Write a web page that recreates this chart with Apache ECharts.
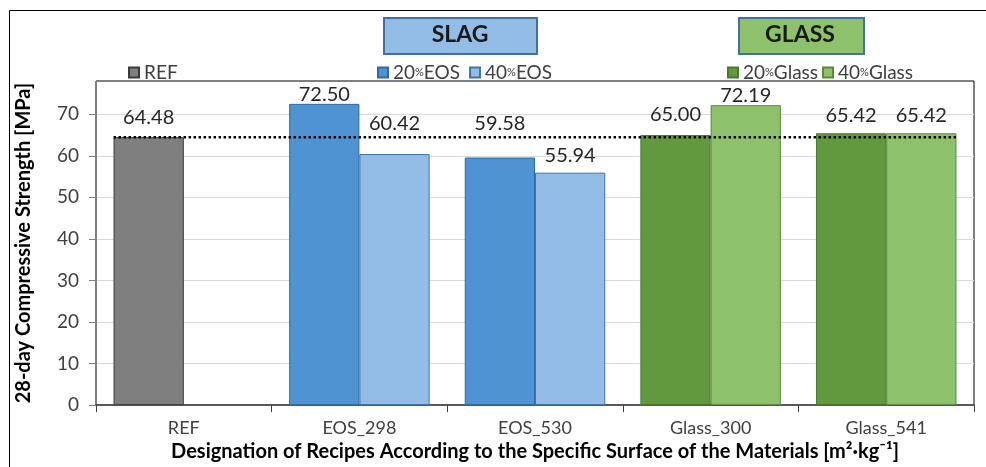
<!DOCTYPE html>
<html>
<head>
<meta charset="utf-8">
<script src="https://cdn.jsdelivr.net/npm/echarts@6/dist/echarts.min.js"></script>
<style>
html,body{margin:0;padding:0;background:#fff;}
#c{width:986px;height:467px;}
</style>
</head>
<body>
<div id="c"></div>
<script>
// ---- data ----
const categories = ['REF', 'EOS_298', 'EOS_530', 'Glass_300', 'Glass_541'];
const refValues     = [64.48, null, null, null, null];
const eos20Values   = [null, 72.50, 59.58, null, null];
const eos40Values   = [null, 60.42, 55.94, null, null];
const glass20Values = [null, null, null, 65.00, 65.42];
const glass40Values = [null, null, null, 72.19, 65.42];
const referenceLine = 64.48;
const yTickLabels = [0, 10, 20, 30, 40, 50, 60, 70];

// ---- layout / style ----
const FONT = 'Lato';
const gapFrac = 0.2;
// label distance above each bar (per series, per category), mimicking the reference placement
const labelLift = {
  REF: [10, 0, 0, 0, 0],
  '20%EOS': [0, -1, 24, 0, 0],
  '40%EOS': [0, 21, 7, 0, 0],
  '20%Glass': [0, 0, 0, 10, 8],
  '40%Glass': [0, 0, 0, 0, 8]
};

function barSeries(name, values, stack, color, border) {
  return {
    name: name,
    type: 'bar',
    stack: stack,
    barGap: '0%',
    barCategoryGap: (gapFrac * 100) + '%',
    itemStyle: { color: color, borderColor: border, borderWidth: 1 },
    data: values.map((v, i) => v == null ? null : {
      value: v,
      label: { distance: labelLift[name][i] }
    }),
    label: {
      show: true,
      position: 'top',
      fontFamily: FONT,
      fontSize: 20,
      color: '#262626',
      formatter: p => p.value == null ? '' : Number(p.value).toFixed(2)
    }
  };
}

const legendText = {
  fontFamily: FONT, fontSize: 19, color: '#404040',
  rich: { p: { fontFamily: FONT, fontSize: 11, color: '#404040' } }
};
const legendFmt = n => n.replace('%', '{p|%}');

const option = {
  animation: false,
  backgroundColor: '#fff',
  grid: { left: 96, top: 81, right: 12, bottom: 59, show: true, borderColor: '#000', borderWidth: 1 },
  legend: [
    { data: ['REF'], left: 123, top: 58, icon: 'rect', itemWidth: 10, itemHeight: 10, itemGap: 10,
      textStyle: legendText, formatter: legendFmt },
    { data: ['20%EOS', '40%EOS'], left: 372, top: 58, icon: 'rect', itemWidth: 10, itemHeight: 10, itemGap: 9,
      textStyle: legendText, formatter: legendFmt },
    { data: ['20%Glass', '40%Glass'], left: 722, top: 58, icon: 'rect', itemWidth: 10, itemHeight: 10, itemGap: 4,
      textStyle: legendText, formatter: legendFmt }
  ],
  xAxis: [
    {
      type: 'category',
      data: categories,
      axisLine: { lineStyle: { color: '#595959', width: 2 } },
      axisTick: { show: true, length: 7, lineStyle: { color: '#404040', width: 1 } },
      axisLabel: { fontFamily: FONT, fontSize: 18, color: '#404040', margin: 14 },
      name: 'Designation of Recipes According to the Specific Surface of the Materials [m²·kg⁻¹]',
      nameLocation: 'middle',
      nameGap: 36,
      nameTextStyle: { fontFamily: FONT, fontSize: 20, fontWeight: 'bold', color: '#000' }
    },
    {
      type: 'value', min: 0, max: categories.length, show: false
    }
  ],
  yAxis: {
    type: 'value',
    min: 0,
    max: 78,
    interval: 10,
    axisLine: { show: true, lineStyle: { color: '#7f7f7f', width: 1 } },
    axisTick: { show: true, length: 7, lineStyle: { color: '#7f7f7f' }, customValues: yTickLabels },
    axisLabel: { fontFamily: FONT, fontSize: 19, color: '#404040', margin: 17, customValues: yTickLabels },
    splitLine: { lineStyle: { color: '#d9d9d9', width: 1 } },
    name: '28-day Compressive Strength [MPa]',
    nameLocation: 'middle',
    nameRotate: 90,
    nameGap: 62,
    nameTextStyle: { fontFamily: FONT, fontSize: 20, fontWeight: 'bold', color: '#000' }
  },
  series: [
    barSeries('REF', refValues, 'a', '#7f7f7f', '#3a3a3a'),
    barSeries('20%EOS', eos20Values, 'a', '#5093d3', '#2f6aa3'),
    barSeries('40%EOS', eos40Values, 'b', '#93bde6', '#3f74a8'),
    barSeries('20%Glass', glass20Values, 'a', '#62993e', '#4a7a2c'),
    barSeries('40%Glass', glass40Values, 'b', '#8dc16b', '#5a8a3c'),
    {
      name: 'refline',
      type: 'line',
      xAxisIndex: 1,
      yAxisIndex: 0,
      symbol: 'none',
      silent: true,
      z: 5,
      lineStyle: { color: '#000', width: 2.5, type: [2.5, 2.5] },
      data: [[gapFrac / 2, referenceLine], [categories.length - gapFrac / 2, referenceLine]]
    }
  ],
  graphic: [
    { type: 'rect', left: 7, top: 8, z: -10, shape: { width: 977, height: 480 },
      style: { fill: 'none', stroke: '#000', lineWidth: 1 } },
    { type: 'rect', left: 383, top: 17, shape: { width: 153, height: 36 },
      style: { fill: '#93bde6', stroke: '#41719c', lineWidth: 2 } },
    { type: 'text', x: 460, y: 35,
      style: { text: 'SLAG', x: 0, y: 0, align: 'center', verticalAlign: 'middle',
               fontFamily: FONT, fontSize: 23, fontWeight: 'bold', fill: '#1a1a1a' } },
    { type: 'rect', left: 738, top: 17, shape: { width: 125, height: 36 },
      style: { fill: '#8dc16b', stroke: '#41719c', lineWidth: 2 } },
    { type: 'text', x: 800, y: 35,
      style: { text: 'GLASS', x: 0, y: 0, align: 'center', verticalAlign: 'middle',
               fontFamily: FONT, fontSize: 23, fontWeight: 'bold', fill: '#1a1a1a' } }
  ]
};

const chart = echarts.init(document.getElementById('c'), null, { renderer: 'canvas' });
chart.setOption(option);
</script>
</body>
</html>
